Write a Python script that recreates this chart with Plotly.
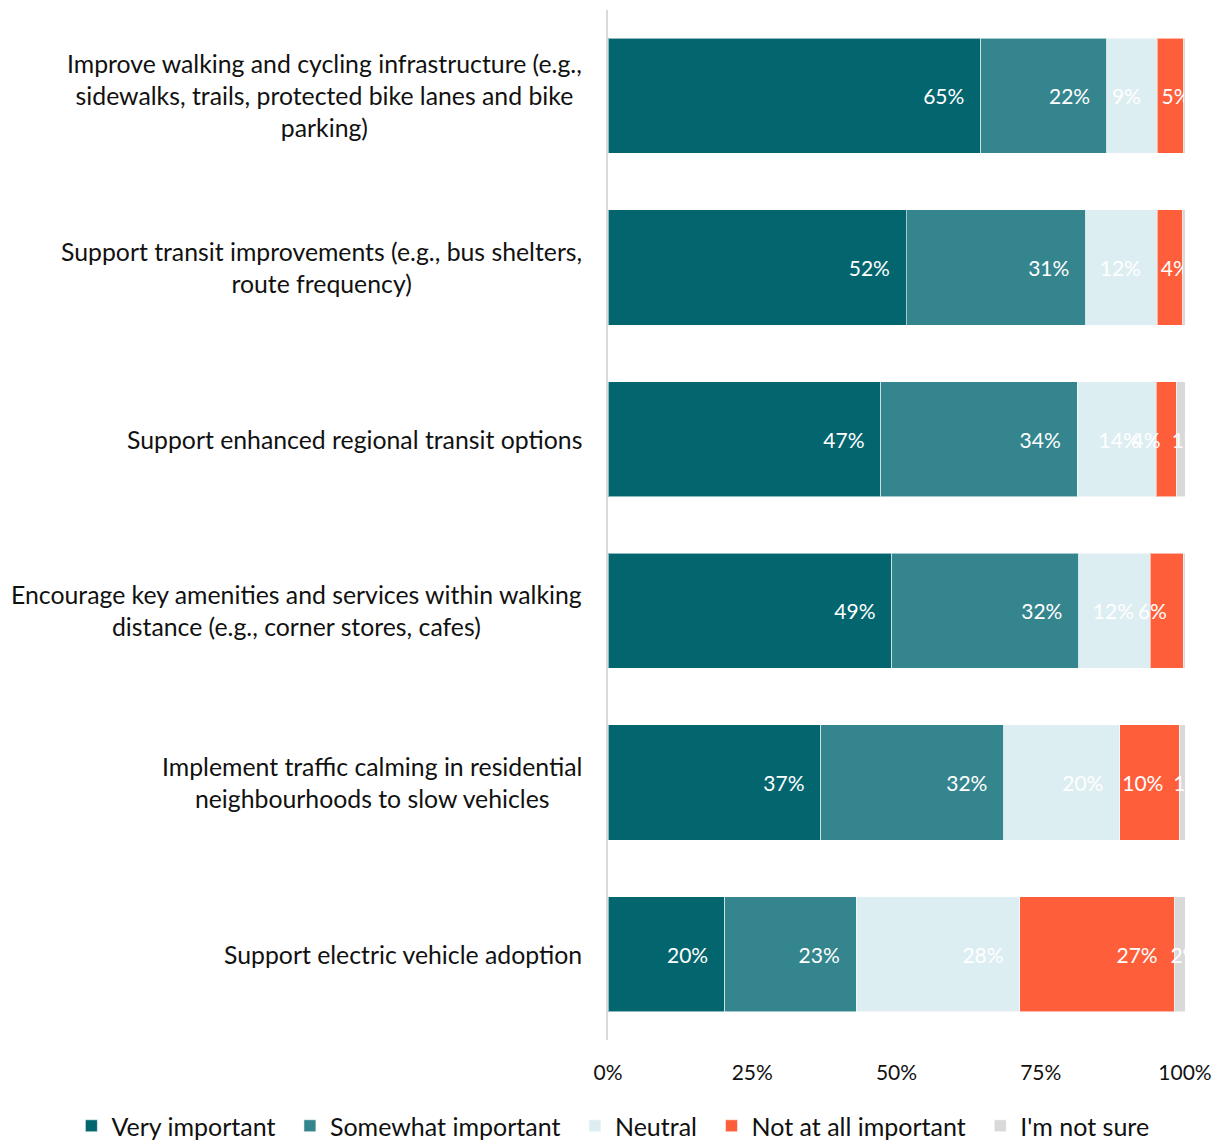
import plotly.graph_objects as go

# Survey statements (top to bottom)
categories = [
    "Improve walking and cycling infrastructure (e.g.,<br>sidewalks, trails, protected bike lanes and bike<br>parking)",
    "Support transit improvements (e.g., bus shelters,<br>route frequency)",
    "Support enhanced regional transit options",
    "Encourage key amenities and services within walking<br>distance (e.g., corner stores, cafes)",
    "Implement traffic calming in residential<br>neighbourhoods to slow vehicles",
    "Support electric vehicle adoption",
]

# Share of respondents (%) per response option
very_important = [64.6, 51.7, 47.3, 49.2, 36.9, 20.2]
somewhat_important = [21.8, 31.1, 34.0, 32.4, 31.7, 22.8]
neutral = [8.8, 12.4, 13.7, 12.4, 20.1, 28.4]
not_at_all_important = [4.6, 4.4, 3.6, 5.7, 10.4, 26.7]
not_sure = [0.2, 0.4, 1.4, 0.3, 0.9, 1.9]

x_ticks = [0, 25, 50, 75, 100]
x_tick_labels = ["0%", "25%", "50%", "75%", "100%"]

# Rows whose "Not at all important" label sits centred on the segment
centred_label_rows = [True, True, False, False, False, False]

FONT = "Lato"
END_PAD = "\u00a0\u00a0\u2009"   # keeps end-anchored labels clear of the segment edge
MID_PAD = "\u00a0\u00a0"          # nudges centred labels slightly to the right
LEGEND_GAP = "\u00a0\u2009"       # extra room between legend entries
LINE = dict(color="rgba(255,255,255,0.55)", width=1)

fig = go.Figure()


def add_series(name, vals, color, anchor, showlegend=True, mask=None, last=False):
    if mask is not None:
        vals = [v if m else 0 for v, m in zip(vals, mask)]
    if anchor == "end":
        labels = [f"{v:.0f}%" + END_PAD if v > 0 else "" for v in vals]
    else:
        labels = [MID_PAD + f"{v:.0f}%" if v >= 0.5 else "" for v in vals]
    fig.add_trace(go.Bar(
        name=name if last else name + LEGEND_GAP,
        legendgroup=name, showlegend=showlegend,
        y=categories, x=vals, orientation="h",
        marker=dict(color=color, line=LINE),
        text=labels, textposition="inside", insidetextanchor=anchor,
        textangle=0, constraintext="none", cliponaxis=True,
        textfont=dict(family=FONT, size=21, color="white"),
        hoverinfo="skip",
    ))


add_series("Very important", very_important, "#03666F", "end")
add_series("Somewhat important", somewhat_important, "#34858E", "end")
add_series("Neutral", neutral, "#DDEEF2", "end")
add_series("Not at all important", not_at_all_important, "#FF5E3A", "end",
           mask=[not c for c in centred_label_rows])
add_series("Not at all important", not_at_all_important, "#FF5E3A", "middle",
           showlegend=False, mask=centred_label_rows)
add_series("I'm not sure", not_sure, "#D9D9D9", "middle", last=True)

# Category labels, centred block right-aligned against the axis
for cat in categories:
    fig.add_annotation(
        x=0, xref="paper", y=cat, yref="y",
        xanchor="right", xshift=-24, align="center",
        text=cat, showarrow=False,
        font=dict(family=FONT, size=24.8, color="#111111"),
    )

fig.update_layout(
    width=1220, height=1140,
    margin=dict(l=608, r=35, t=10, b=100, autoexpand=False),
    paper_bgcolor="white", plot_bgcolor="white",
    barmode="stack", bargap=0.33,
    showlegend=True,
    legend=dict(
        orientation="h",
        x=-0.930, xanchor="left", y=-0.0835, yanchor="middle",
        font=dict(family=FONT, size=25, color="#111111"),
        itemwidth=30, traceorder="normal",
    ),
    font=dict(family=FONT, color="#111111"),
)
fig.update_xaxes(
    range=[0, 100], tickvals=x_ticks, ticktext=x_tick_labels,
    showgrid=False, zeroline=False, showline=False,
    ticks="outside", ticklen=14, tickcolor="rgba(0,0,0,0)",
    tickfont=dict(family=FONT, size=21, color="#111111"),
)
fig.update_yaxes(
    autorange="reversed", showticklabels=False, showgrid=False,
    zeroline=False, showline=True, linecolor="#D9D9D9", linewidth=2,
)

fig.write_html("out.html")
